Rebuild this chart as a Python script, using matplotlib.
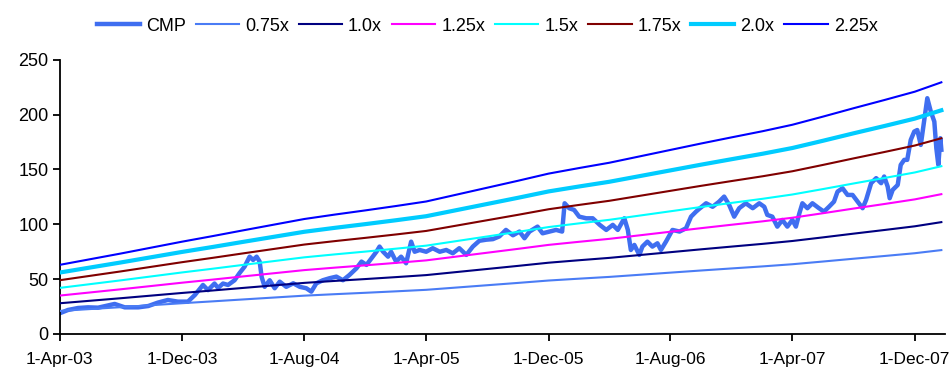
import pandas as pd
import numpy as np
import matplotlib
matplotlib.use('Agg')
import matplotlib.pyplot as plt
import matplotlib.dates as mdates
from matplotlib.ticker import FuncFormatter

plt.rcParams['font.family'] = ['Liberation Sans', 'DejaVu Sans']

# share price (CMP)
cmp_dates = [
    '2003-04-02', '2003-04-18', '2003-05-08', '2003-05-28', '2003-06-17', '2003-07-20',
    '2003-08-09', '2003-09-05', '2003-09-25', '2003-10-14', '2003-11-03', '2003-11-23',
    '2003-12-13', '2003-12-27', '2004-01-12', '2004-01-22', '2004-02-04', '2004-02-11',
    '2004-02-21', '2004-03-02', '2004-03-15', '2004-03-25', '2004-04-04', '2004-04-14',
    '2004-04-21', '2004-04-28', '2004-05-04', '2004-05-08', '2004-05-14', '2004-05-24',
    '2004-06-03', '2004-06-13', '2004-06-26', '2004-07-10', '2004-07-23', '2004-08-05',
    '2004-08-15', '2004-08-25', '2004-09-07', '2004-09-20', '2004-10-04', '2004-10-17',
    '2004-10-30', '2004-11-13', '2004-11-23', '2004-12-03', '2004-12-13', '2004-12-23',
    '2004-12-29', '2005-01-05', '2005-01-15', '2005-01-21', '2005-01-31', '2005-02-10',
    '2005-02-20', '2005-03-02', '2005-03-09', '2005-03-19', '2005-04-01', '2005-04-14',
    '2005-04-28', '2005-05-11', '2005-05-24', '2005-06-06', '2005-06-20', '2005-07-03',
    '2005-07-16', '2005-07-30', '2005-08-12', '2005-08-25', '2005-09-07', '2005-09-21',
    '2005-10-04', '2005-10-14', '2005-10-24', '2005-11-09', '2005-11-19', '2005-12-03',
    '2005-12-16', '2005-12-28', '2006-01-02', '2006-01-11', '2006-01-21', '2006-01-31',
    '2006-02-14', '2006-02-27', '2006-03-13', '2006-03-26', '2006-04-08', '2006-04-18',
    '2006-05-01', '2006-05-08', '2006-05-14', '2006-05-21', '2006-05-31', '2006-06-06',
    '2006-06-16', '2006-06-26', '2006-07-06', '2006-07-13', '2006-07-23', '2006-08-05',
    '2006-08-19', '2006-09-01', '2006-09-11', '2006-09-21', '2006-09-27', '2006-10-11',
    '2006-10-24', '2006-11-06', '2006-11-16', '2006-11-26', '2006-12-06', '2006-12-16',
    '2006-12-29', '2007-01-12', '2007-01-25', '2007-02-04', '2007-02-10', '2007-02-20',
    '2007-03-02', '2007-03-12', '2007-03-22', '2007-04-01', '2007-04-08', '2007-04-15',
    '2007-04-21', '2007-05-01', '2007-05-11', '2007-05-24', '2007-06-03', '2007-06-13',
    '2007-06-23', '2007-06-30', '2007-07-10', '2007-07-20', '2007-07-30', '2007-08-09',
    '2007-08-19', '2007-08-26', '2007-09-05', '2007-09-15', '2007-09-25', '2007-10-01',
    '2007-10-08', '2007-10-12', '2007-10-18', '2007-10-28', '2007-11-03', '2007-11-10',
    '2007-11-16', '2007-11-23', '2007-11-30', '2007-12-06', '2007-12-13', '2007-12-20',
    '2007-12-26', '2008-01-02', '2008-01-09', '2008-01-13', '2008-01-17', '2008-01-21',
    '2008-01-23',
]
cmp_values = [
    19.0, 21.9, 23.7, 24.3, 24.0, 27.4,
    24.3, 24.3, 25.5, 28.6, 31.0, 29.5,
    29.5, 35.6, 44.7, 40.0, 46.0, 42.0,
    46.0, 44.7, 49.0, 55.6, 61.4, 70.5,
    67.5, 70.5, 66.0, 52.0, 43.0, 49.0,
    41.7, 47.7, 43.0, 46.2, 43.0, 41.7,
    38.6, 46.2, 49.0, 50.8, 52.3, 49.0,
    53.8, 59.9, 66.0, 63.0, 69.0, 75.1,
    79.7, 75.1, 70.5, 75.0, 66.0, 70.5,
    64.5, 84.2, 75.0, 76.6, 75.0, 78.2,
    75.0, 76.6, 73.6, 78.2, 72.1, 79.7,
    85.0, 86.0, 86.5, 89.0, 94.9, 90.0,
    93.4, 87.3, 93.4, 97.9, 91.8, 93.4,
    94.9, 93.4, 119.2, 114.7, 113.1, 107.0,
    105.5, 105.5, 99.5, 94.9, 99.5, 94.9,
    105.5, 94.9, 76.6, 81.2, 72.1, 79.7,
    84.2, 79.7, 82.7, 76.6, 84.2, 94.9,
    93.4, 96.4, 107.0, 111.6, 114.0, 119.2,
    116.0, 120.7, 125.3, 117.7, 107.0, 114.7,
    119.2, 114.7, 119.2, 116.0, 108.6, 107.0,
    97.9, 104.0, 97.9, 104.0, 97.9, 110.1,
    119.2, 114.7, 119.2, 114.7, 111.6, 116.0,
    120.7, 129.8, 132.9, 126.8, 126.8, 120.7,
    114.7, 122.3, 137.5, 142.1, 137.5, 143.6,
    134.4, 123.8, 131.4, 135.9, 154.2, 158.8,
    158.8, 177.0, 184.6, 186.0, 172.4, 195.3,
    215.0, 202.8, 193.7, 169.4, 154.2, 178.5,
    168.0,
]

# earnings base for the 1.0x band
base_dates = [
    '2003-04-01', '2003-06-01', '2003-08-01', '2003-10-01', '2003-12-01',
    '2004-02-01', '2004-04-01', '2004-06-01', '2004-08-01', '2004-10-01',
    '2004-12-01', '2005-02-01', '2005-04-01', '2005-06-01', '2005-08-01',
    '2005-10-01', '2005-12-01', '2006-02-01', '2006-04-01', '2006-06-01',
    '2006-08-01', '2006-10-01', '2006-12-01', '2007-02-01', '2007-04-01',
    '2007-06-01', '2007-08-01', '2007-10-01', '2007-12-01', '2008-01-23',
]
base_values = [
    28.0, 30.3, 32.6, 35.0, 37.4,
    39.7, 42.0, 44.3, 46.6, 48.4,
    50.1, 51.9, 53.7, 56.5, 59.3,
    62.1, 65.0, 67.3, 69.4, 72.0,
    74.6, 77.2, 79.7, 82.2, 84.8,
    88.1, 91.5, 94.8, 98.2, 102.0,
]

multiples = [0.75, 1.0, 1.25, 1.5, 1.75, 2.0, 2.25]
band_labels = ['0.75x', '1.0x', '1.25x', '1.5x', '1.75x', '2.0x', '2.25x']
band_colors = ['#4a7cf5', '#000080', '#ff00ff', '#00ffff', '#800000', '#00ccff', '#0000ff']
band_widths = [1.5, 1.5, 1.5, 1.5, 1.5, 3.0, 1.5]

tick_dates = ['2003-04-01', '2003-12-01', '2004-08-01', '2005-04-01',
              '2005-12-01', '2006-08-01', '2007-04-01', '2007-12-01']

cmp_x = pd.to_datetime(cmp_dates)
base_x = pd.to_datetime(base_dates)
base = np.array(base_values)

fig = plt.figure(figsize=(9.52, 3.74), dpi=100)
ax = fig.add_axes([0.0625, 0.107, 0.930, 0.733])

ax.plot(cmp_x, cmp_values, color='#3f6ef0', lw=3.2, label='CMP', zorder=2)
for m, lab, col, lw in zip(multiples, band_labels, band_colors, band_widths):
    ax.plot(base_x, base * m, color=col, lw=lw, label=lab, zorder=3)

ax.set_ylim(0, 250)
ax.set_yticks(range(0, 251, 50))
ax.set_xlim(pd.Timestamp('2003-04-01'), pd.Timestamp('2008-01-30'))
ax.set_xticks(pd.to_datetime(tick_dates))


def fmt_date(v, pos):
    d = mdates.num2date(v)
    return f"{d.day}-{d:%b-%y}"


ax.xaxis.set_major_formatter(FuncFormatter(fmt_date))

for s in ['top', 'right']:
    ax.spines[s].set_visible(False)
for s in ['left', 'bottom']:
    ax.spines[s].set_linewidth(1.3)
    ax.spines[s].set_color('black')
ax.tick_params(axis='both', labelsize=13, width=1.3, length=5, direction='out', colors='black')
ax.tick_params(axis='x', labelsize=12.5, pad=8)
ax.tick_params(axis='y', pad=3)

fig.legend(loc='center', bbox_to_anchor=(0.5116, 0.93), ncol=8, frameon=False,
           fontsize=13, handlelength=2.4, handletextpad=0.33, columnspacing=0.55,
           borderaxespad=0, borderpad=0)

fig.savefig('out.png', dpi=100, facecolor='white')
